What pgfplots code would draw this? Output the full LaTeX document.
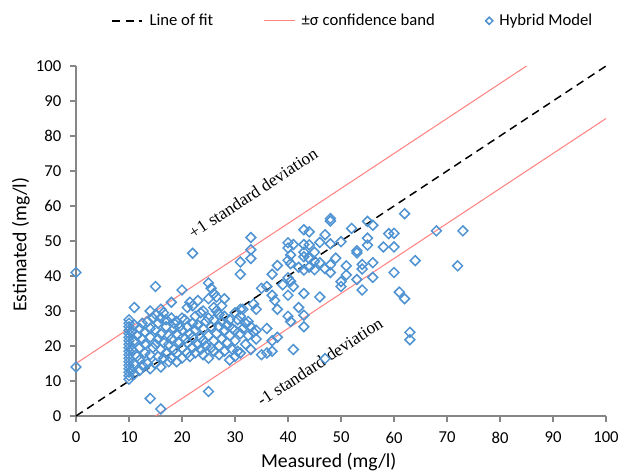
\documentclass[border=0pt]{standalone}
\usepackage{fontspec}
\setmainfont{Carlito}
\newfontfamily\seriffont{Liberation Serif}
\usepackage{pgfplots}
\pgfplotsset{compat=1.18}
\definecolor{ptblue}{HTML}{4F93D3}
\definecolor{bandred}{HTML}{FF8585}
\definecolor{axgray}{HTML}{868686}
\newcommand{\lgf}{\fontsize{12.5}{14}\selectfont}
\pgfplotsset{
  linelegend/.style={legend image code/.code={\draw[##1] (0pt,0pt) -- (22.5pt,0pt);}},
  marklegend/.style={legend image code/.code={\draw[##1, mark size=1.9pt] plot coordinates {(11.25pt,0pt)};}},
}

\begin{document}
\begin{tikzpicture}
\useasboundingbox (-57pt,-42pt) rectangle (409.5pt,312pt);
\begin{axis}[
  scale only axis, width=397.5pt, height=262.5pt,
  at={(0,0)}, anchor=south west,
  xmin=0, xmax=100, ymin=0, ymax=100,
  xtick={0,10,...,100}, ytick={0,10,...,100},
  axis x line*=bottom, axis y line*=left,
  axis line style={-, draw=axgray, line width=0.9pt},
  tick style={draw=axgray, line width=0.9pt},
  tick align=outside, major tick length=4.5pt,
  /pgf/number format/assume math mode=true,
  tick label style={font=\fontsize{12.5}{14}\selectfont, text=black},
  xticklabel style={yshift=-4pt},
  yticklabel style={xshift=-3pt},
  xlabel={Measured (mg/l)}, ylabel={Estimated (mg/l)},
  label style={font=\fontsize{14.8}{17}\selectfont},
  xlabel style={at={(axis description cs:0.477,-0.131)}, anchor=center},
  ylabel style={at={(axis description cs:-0.104,0.489)}, anchor=center},
  legend columns=3,
  legend style={at={(axis description cs:0.523,1.129)}, anchor=center,
    draw=none, fill=none,
    /tikz/every even column/.append style={column sep=36pt},
    /tikz/every odd column/.append style={column sep=3pt}},
  legend cell align=left,
]
\addplot[black, line width=1.1pt, dash pattern=on 6pt off 4pt, linelegend]
  coordinates {(0,0) (100,100)};
\addlegendentry{\lgf Line of fit}
\addplot[bandred, line width=0.8pt, linelegend]
  coordinates {(0,15) (85,100)};
\addlegendentry{\lgf ±σ confidence band}
\addplot[bandred, line width=0.8pt, forget plot]
  coordinates {(15,0) (100,85)};
\addplot[only marks, mark=square, mark size=2.6pt,
  mark options={draw=ptblue, line width=1.15pt, rotate=45}, marklegend]
  coordinates {
  (0,14) (0,41)
  (10,10.5) (10,11.5) (10,12.5) (10,13.5) (10,14.5) (10,15.5) (10,16.5) (10,17.5)
  (10,18.5) (10,19.5) (10,20.5) (10,21.5) (10,22.5) (10,23.5) (10,24.5) (10,25.5)
  (10,26.5) (10,27.5)
  (10.5,13) (10.5,19) (10.5,24)
  (11,12) (11,15) (11,21.5) (11,26) (11,31)
  (11.5,17) (11.5,23)
  (12,13) (12,16) (12,19.5) (12,25)
  (12.5,14.5) (12.5,22) (12.5,26.5)
  (13,18) (13,20.5) (13,24)
  (13.5,15) (13.5,27)
  (14,5) (14,13.5) (14,17.5) (14,22.5) (14,25) (14,30)
  (14.5,19.5) (14.5,28)
  (15,15) (15,20.5) (15,24.5) (15,29) (15,37)
  (15.5,17) (15.5,22) (15.5,26.5)
  (16,2) (16,14) (16,19) (16,23.5) (16,28) (16,30.5)
  (16.5,16.5) (16.5,21) (16.5,29.5)
  (17,18) (17,25.5) (17,27.5)
  (17.5,15.5) (17.5,20.5) (17.5,23)
  (18,16.5) (18,22) (18,28) (18,32.5)
  (18.5,19) (18.5,25) (18.5,26.5)
  (19,15.5) (19,18) (19,23.5) (19,27)
  (19.5,21) (19.5,25.5)
  (20,16.5) (20,19.5) (20,24.5) (20,28) (20,36)
  (20.5,22) (20.5,27.5)
  (21,18) (21,21) (21,25.5) (21,31)
  (21.5,17) (21.5,23.5) (21.5,32.5)
  (22,19.5) (22,22.5) (22,26.5) (22,31.5) (22,46.5)
  (22.5,18) (22.5,24.5) (22.5,28.5)
  (23,20.5) (23,26) (23,33)
  (23.5,19) (23.5,22.5) (23.5,29.5)
  (24,17.5) (24,21.5) (24,25) (24,30)
  (24.5,20) (24.5,27)
  (25,7) (25,16.5) (25,23) (25,28) (25,33.5) (25,38)
  (25.5,19.5) (25.5,25.5) (25.5,36.5)
  (26,18.5) (26,21.5) (26,27.5) (26,31) (26,35)
  (26.5,23.5) (26.5,30) (26.5,34)
  (27,17.5) (27,20) (27,25.5) (27,29)
  (27.5,22) (27.5,27) (27.5,31.5)
  (28,18.5) (28,24.5) (28,28.5) (28,33.5)
  (28.5,21) (28.5,26)
  (29,16) (29,23) (29,27.5)
  (29.5,19) (29.5,25)
  (30,17) (30,21.5) (30,24.5) (30,29.5)
  (30.5,18.5) (30.5,27.5)
  (31,18) (31,23.5) (31,28.5) (31,30.5) (31,40.5) (31,44)
  (31.5,25) (31.5,30.5)
  (32,20.5) (32,26.5)
  (32.5,23) (32.5,27)
  (33,19) (33,25.5) (33,45) (33,47.5) (33,51)
  (33.5,24) (33.5,32)
  (34,22) (34,24.5) (34,30.5)
  (35,17.5) (35,36.5)
  (36,18) (36,25) (36,37)
  (37,18.5) (37,21.5) (37,34.5) (37,40.5)
  (37.5,33)
  (38,22.5) (38,30.5) (38,43)
  (39,37.5)
  (40,28.5) (40,34.5) (40,39.5) (40,44.5) (40,48) (40,49.5)
  (40.5,27) (40.5,38.5) (40.5,43.5) (40.5,46)
  (41,19) (41,37) (41,49)
  (42,31) (42,42.5)
  (43,25.5) (43,28.8) (43,35) (43,41.7) (43,45.5) (43,46.8) (43,49) (43,53.2)
  (44,42.5) (44,45) (44,48.9) (44,52.6)
  (45,41.8) (45,44.2) (45,46.8)
  (46,34) (46,43.8) (46,49.6)
  (47,16.4) (47,42.1) (47,51.8)
  (48,41) (48,43.2) (48,49.2) (48,55.7) (48,56.4)
  (49,45.1)
  (50,37) (50,38.4) (50,49.8)
  (51,40.3) (51,42.9)
  (52,53.6)
  (53,39) (53,46.6) (53,47.2)
  (54,36) (54,42) (54,43.3)
  (55,48.8) (55,50.8) (55,55.6)
  (56,39.6) (56,43.8) (56,54.5)
  (58,48.3) (59,52.1)
  (60,41) (60,48.3) (60,52.2)
  (61,35.4) (62,33.5) (62,57.8)
  (63,21.8) (63,23.9) (64,44.4)
  (68,52.9) (72,42.9) (73,52.9)
  };
\addlegendentry{\lgf Hybrid Model}
\node[rotate=33.4, font=\seriffont\fontsize{13}{15}\selectfont] at (axis cs:33.4,63.7) {+1 standard deviation};
\node[rotate=33.4, font=\seriffont\fontsize{13}{15}\selectfont] at (axis cs:46,15.5) {-1 standard deviation};
\end{axis}
\end{tikzpicture}
\end{document}
